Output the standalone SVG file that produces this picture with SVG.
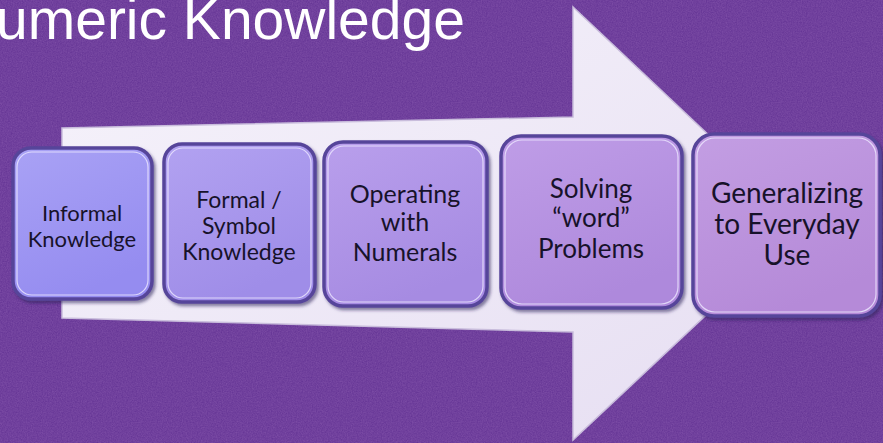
<svg xmlns="http://www.w3.org/2000/svg" width="883" height="443" viewBox="0 0 883 443">
  <defs>
    <filter id="grain" x="0" y="0" width="100%" height="100%">
      <feTurbulence type="fractalNoise" baseFrequency="0.8" numOctaves="3" seed="4" result="n"/>
      <feColorMatrix in="n" type="matrix" values="0 0 0 0 0.33  0 0 0 0 0.15  0 0 0 0 0.5  0 0 0 0.5 0"/>
    </filter>
    <filter id="bevel" x="-10%" y="-10%" width="125%" height="125%">
      <feDropShadow dx="2" dy="2.5" stdDeviation="1.5" flood-color="#2a1a55" flood-opacity="0.55"/>
    </filter>
    <linearGradient id="arrowFill" x1="0" y1="0" x2="1" y2="1">
      <stop offset="0" stop-color="#f6f3fb"/>
      <stop offset="1" stop-color="#e6def2"/>
    </linearGradient>
    <linearGradient id="g1" x1="0" y1="0" x2="0.4" y2="1">
      <stop offset="0" stop-color="#a9a2f5"/>
      <stop offset="1" stop-color="#958cf0"/>
    </linearGradient>
    <linearGradient id="g2" x1="0" y1="0" x2="0.4" y2="1">
      <stop offset="0" stop-color="#b2a2f1"/>
      <stop offset="1" stop-color="#9f8de8"/>
    </linearGradient>
    <linearGradient id="g3" x1="0" y1="0" x2="0.4" y2="1">
      <stop offset="0" stop-color="#b99fec"/>
      <stop offset="1" stop-color="#a68be2"/>
    </linearGradient>
    <linearGradient id="g4" x1="0" y1="0" x2="0.4" y2="1">
      <stop offset="0" stop-color="#bf9de7"/>
      <stop offset="1" stop-color="#ae89dc"/>
    </linearGradient>
    <linearGradient id="g5" x1="0" y1="0" x2="0.4" y2="1">
      <stop offset="0" stop-color="#c39ee3"/>
      <stop offset="1" stop-color="#b58ad8"/>
    </linearGradient>
  </defs>
  <style>
    .box { stroke: #57459a; stroke-width: 3.5; filter: url(#bevel); }
    .shine { fill: none; stroke: #eee8ff; stroke-width: 1.2; stroke-opacity: 0.8; }
    .label { font-family: Lato, "Open Sans", "Liberation Sans", sans-serif; fill: #17122a; text-anchor: middle; }
    .title { font-family: "Liberation Sans", Arial, sans-serif; font-size: 57px; fill: #ffffff; }
  </style>

  <!-- backdrop -->
  <rect width="883" height="443" fill="#623293"/>
  <rect width="883" height="443" filter="url(#grain)"/>

  <text class="title" x="-4" y="39">umeric Knowledge</text>

  <!-- big process arrow behind the steps -->
  <g id="connectors">
    <path d="M62,128 L573,117 L573,7 L803,224 L573,440 L573,332 L62,318 Z" fill="url(#arrowFill)" stroke="#c9bddc" stroke-width="1.5"/>
  </g>

  <g id="step1">
    <rect class="box" x="13" y="148" width="139" height="151" rx="18" fill="url(#g1)"/>
    <rect class="shine" x="17" y="152" width="131" height="143" rx="15"/>
    <text class="label" font-size="22"><tspan x="82" y="221">Informal</tspan><tspan x="82" y="247">Knowledge</tspan></text>
  </g>

  <g id="step2">
    <rect class="box" x="164" y="144" width="151" height="158" rx="18" fill="url(#g2)"/>
    <rect class="shine" x="168" y="148" width="143" height="150" rx="15"/>
    <text class="label" font-size="23"><tspan x="239" y="208">Formal /</tspan><tspan x="239" y="234">Symbol</tspan><tspan x="239" y="260">Knowledge</tspan></text>
  </g>

  <g id="step3">
    <rect class="box" x="324" y="142" width="163" height="164" rx="19" fill="url(#g3)"/>
    <rect class="shine" x="328" y="146" width="155" height="156" rx="16"/>
    <text class="label" font-size="25"><tspan x="405" y="203">Operating</tspan><tspan x="405" y="231">with</tspan><tspan x="405" y="261">Numerals</tspan></text>
  </g>

  <g id="step4">
    <rect class="box" x="501" y="136" width="181" height="172" rx="20" fill="url(#g4)"/>
    <rect class="shine" x="505" y="140" width="173" height="164" rx="17"/>
    <text class="label" font-size="26"><tspan x="591" y="198">Solving</tspan><tspan x="591" y="227">“word”</tspan><tspan x="591" y="258">Problems</tspan></text>
  </g>

  <g id="step5">
    <rect class="box" x="693" y="134" width="187" height="182" rx="21" fill="url(#g5)"/>
    <rect class="shine" x="697" y="138" width="179" height="174" rx="18"/>
    <text class="label" font-size="28"><tspan x="787" y="203">Generalizing</tspan><tspan x="787" y="234">to Everyday</tspan><tspan x="787" y="265">Use</tspan></text>
  </g>
</svg>
